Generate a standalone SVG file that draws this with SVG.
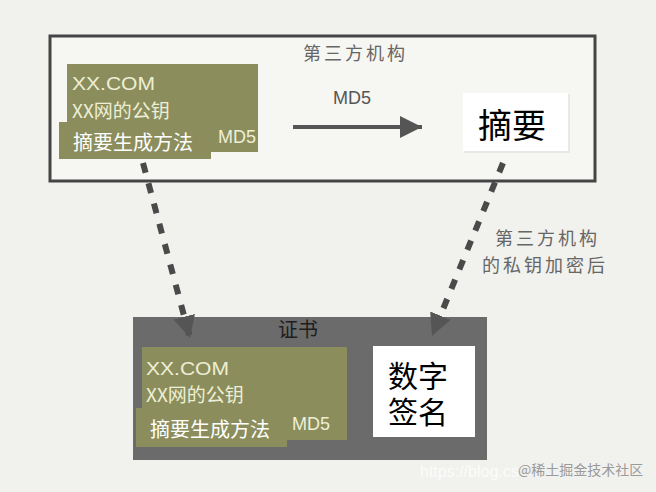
<svg xmlns="http://www.w3.org/2000/svg" width="656" height="492" viewBox="0 0 656 492">
<style>
.cjk{font-family:"Noto Sans CJK SC","Liberation Sans",sans-serif;}
.lat{font-family:"Liberation Sans","Noto Sans CJK SC",sans-serif;}
.green{fill:#8b8e5c;}
.gtxt{fill:#eeeed6;font-size:19px;}
.wtxt{fill:#ffffff;font-size:20px;}
.gray{fill:#666666;}
.dash{stroke:#4a4a4a;stroke-width:6;stroke-dasharray:10 11;fill:none;}
</style>
<defs>
<marker id="head" viewBox="0 0 20 20" refX="20" refY="10" markerWidth="22" markerHeight="22" markerUnits="userSpaceOnUse" orient="auto">
<path d="M0,0 L20,10 L0,20 z" fill="#555555"/>
</marker>
</defs>
<rect x="0" y="0" width="656" height="492" fill="#f1f1ee"/>

<g id="third-party">
<rect x="50" y="36" width="545" height="145" fill="#f6f6f3" stroke="#454545" stroke-width="3"/>
<text x="303" y="60" class="cjk gray" font-size="18" letter-spacing="3">第三方机构</text>
</g>

<g id="info-top">
<rect x="67" y="64" width="191" height="88" class="green"/>
<text x="72" y="90" class="lat gtxt" textLength="83" lengthAdjust="spacingAndGlyphs">XX.COM</text>
<text x="72" y="118" class="cjk gtxt">XX网的公钥</text>
<rect x="59" y="122" width="152" height="37" class="green"/>
<text x="73" y="150" class="cjk wtxt">摘要生成方法</text>
<text x="218" y="143" class="lat gtxt" font-size="18" textLength="38" lengthAdjust="spacingAndGlyphs">MD5</text>
</g>

<g id="digest">
<rect x="464" y="94" width="106" height="59" fill="#e8e8e6"/>
<rect x="463" y="93" width="105" height="58" fill="#ffffff"/>
<text x="478" y="138" class="cjk" font-size="34" fill="#000000">摘要</text>
</g>

<g id="certificate">
<rect x="133" y="317" width="354" height="143" fill="#6b6b6b"/>
<text x="278" y="337" class="cjk" font-size="20" fill="#1e1e1e">证书</text>
</g>

<g id="info-cert">
<rect x="142" y="347" width="205" height="93" class="green"/>
<text x="146" y="375" class="lat gtxt" textLength="83" lengthAdjust="spacingAndGlyphs">XX.COM</text>
<text x="146" y="402" class="cjk gtxt">XX网的公钥</text>
<rect x="136" y="408" width="151" height="39" class="green"/>
<text x="150" y="437" class="cjk wtxt">摘要生成方法</text>
<text x="292" y="430" class="lat gtxt" font-size="18" textLength="38" lengthAdjust="spacingAndGlyphs">MD5</text>
</g>

<g id="signature">
<rect x="373" y="346" width="102" height="91" fill="#ffffff"/>
<text x="388" y="387" class="cjk" font-size="30" fill="#000000">数字</text>
<text x="388" y="423" class="cjk" font-size="30" fill="#000000">签名</text>
</g>

<g id="connectors">
<line x1="293" y1="127" x2="422" y2="127" stroke="#555555" stroke-width="4" marker-end="url(#head)"/>
<text x="333" y="104" class="lat" font-size="18" fill="#555555">MD5</text>
<line x1="143" y1="163" x2="190" y2="338" class="dash" marker-end="url(#head)"/>
<line x1="503" y1="163" x2="432" y2="336" class="dash" marker-end="url(#head)"/>
<text x="495" y="245" class="cjk gray" font-size="18" letter-spacing="3">第三方机构</text>
<text x="482" y="272" class="cjk gray" font-size="18" letter-spacing="3">的私钥加密后</text>
</g>

<g id="watermark">
<text x="420" y="477" class="lat" font-size="16" fill="#ffffff" fill-opacity="0.8">https://blog.cs</text>
<text x="518" y="475" class="cjk" font-size="14" fill="#9a9a9a">@稀土掘金技术社区</text>
</g>
</svg>
